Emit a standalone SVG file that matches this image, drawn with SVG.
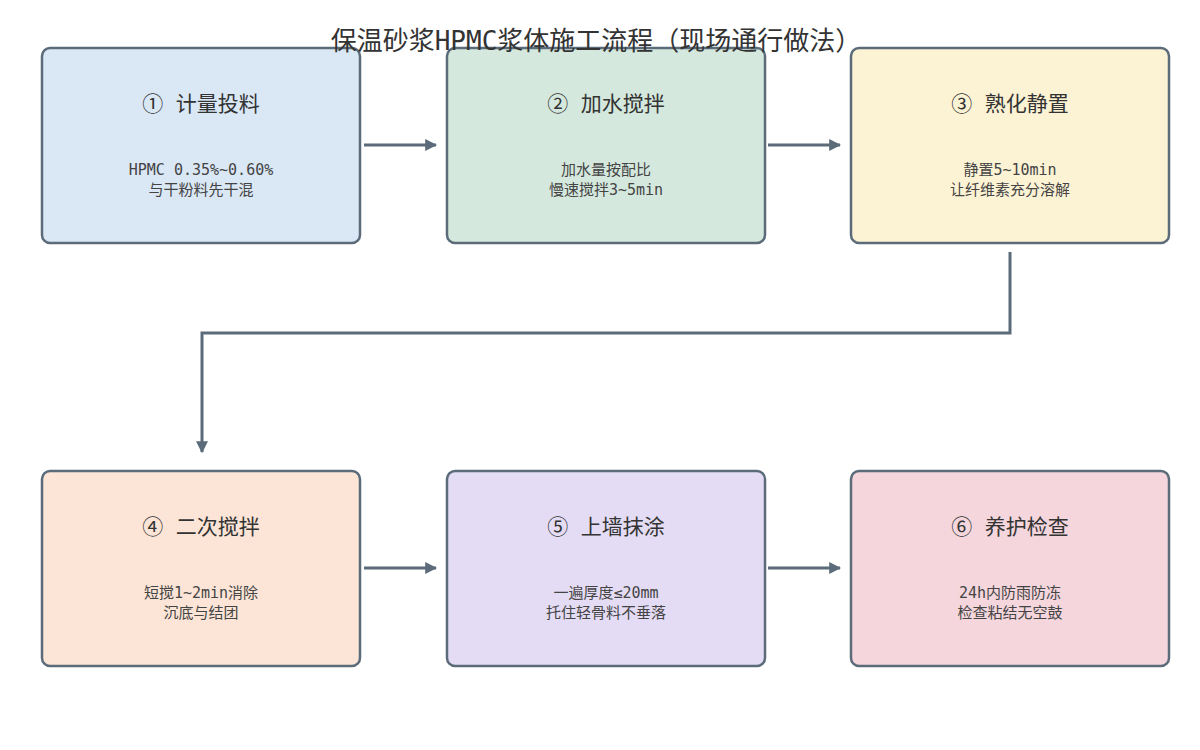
<svg xmlns="http://www.w3.org/2000/svg" width="1200" height="750" viewBox="0 0 1200 750">
<style>
.box{stroke:#5b6b7a;stroke-width:2.5}
.t{font-family:"DejaVu Sans Mono","Noto Sans CJK SC",monospace;text-anchor:middle;fill:#333}
.h{font-size:21px}
.s{font-size:15px;fill:#444}
.c{fill:none;stroke:#5b6b7a;stroke-width:3}
</style>
<defs><marker id="a" viewBox="0 0 10 10" refX="9" refY="5" markerWidth="4" markerHeight="4" orient="auto"><path d="M0,0L10,5L0,10z" fill="#5b6b7a"/></marker></defs>
<rect width="1200" height="750" fill="#fff"/>
<g id="n1"><rect class="box" x="42" y="48" width="318" height="195" rx="8" fill="#dae8f6"/><text class="t h" x="201" y="111">① 计量投料</text><text class="t s" x="201" y="175">HPMC 0.35%~0.60%</text><text class="t s" x="201" y="195">与干粉料先干混</text></g>
<g id="n2"><rect class="box" x="447" y="48" width="318" height="195" rx="8" fill="#d5e8dd"/><text class="t h" x="606" y="111">② 加水搅拌</text><text class="t s" x="606" y="175">加水量按配比</text><text class="t s" x="606" y="195">慢速搅拌3~5min</text></g>
<g id="n3"><rect class="box" x="851" y="48" width="318" height="195" rx="8" fill="#fcf2d4"/><text class="t h" x="1010" y="111">③ 熟化静置</text><text class="t s" x="1010" y="175">静置5~10min</text><text class="t s" x="1010" y="195">让纤维素充分溶解</text></g>
<g id="n4"><rect class="box" x="42" y="471" width="318" height="195" rx="8" fill="#fce5d6"/><text class="t h" x="201" y="534">④ 二次搅拌</text><text class="t s" x="201" y="598">短搅1~2min消除</text><text class="t s" x="201" y="618">沉底与结团</text></g>
<g id="n5"><rect class="box" x="447" y="471" width="318" height="195" rx="8" fill="#e4dcf4"/><text class="t h" x="606" y="534">⑤ 上墙抹涂</text><text class="t s" x="606" y="598">一遍厚度≤20mm</text><text class="t s" x="606" y="618">托住轻骨料不垂落</text></g>
<g id="n6"><rect class="box" x="851" y="471" width="318" height="195" rx="8" fill="#f4d6dc"/><text class="t h" x="1010" y="534">⑥ 养护检查</text><text class="t s" x="1010" y="598">24h内防雨防冻</text><text class="t s" x="1010" y="618">检查粘结无空鼓</text></g>
<g id="connectors">
<path class="c" d="M364,145H436" marker-end="url(#a)"/>
<path class="c" d="M768,145H840" marker-end="url(#a)"/>
<path class="c" d="M1010,252V333H202V452" marker-end="url(#a)"/>
<path class="c" d="M364,568H436" marker-end="url(#a)"/>
<path class="c" d="M768,568H840" marker-end="url(#a)"/>
</g>
<text class="t" x="596" y="50" font-size="26" fill="#222">保温砂浆HPMC浆体施工流程（现场通行做法）</text>
</svg>
